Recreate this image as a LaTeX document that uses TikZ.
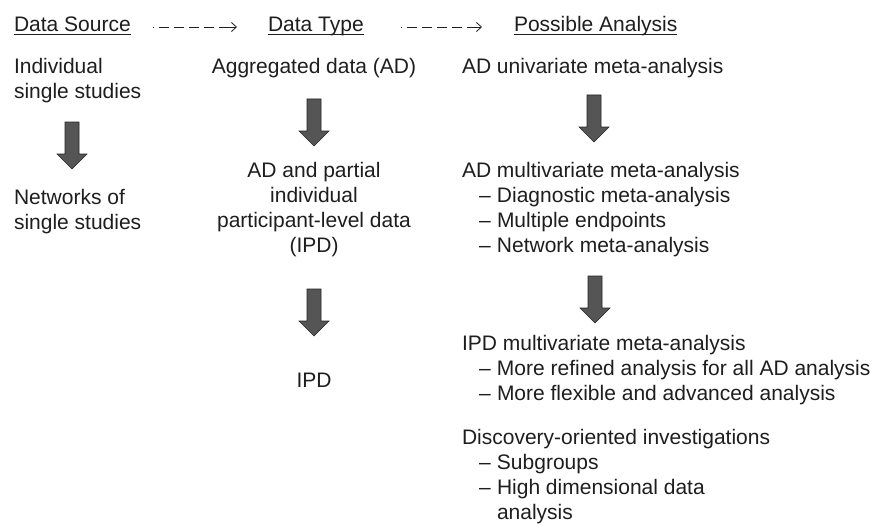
\documentclass[tikz,border=0pt]{standalone}
\usepackage{fontspec}
\setmainfont{Liberation Sans}
\usetikzlibrary{arrows.meta}
\definecolor{arrowgray}{HTML}{555555}
\definecolor{txt}{HTML}{1E1E1E}
\newcommand\dashitem[1]{\hspace*{17pt}\makebox[18pt][l]{–}#1}
\newcommand\contline[1]{\hspace*{35pt}#1}
\tikzset{
  txtnode/.style={inner sep=0pt, outer sep=0pt, text=txt, font=\fontsize{21}{25}\selectfont},
  uline/.style={draw=txt, line width=0.8pt},
  dasharrow/.style={draw=txt, line width=0.8pt,
    dash pattern=on 1.5pt off 5pt on 10pt off 5pt on 10pt off 5pt on 10pt off 5pt on 10pt off 5pt on 40pt off 1pt,
    -{Straight Barb[length=5pt,width=9pt,line width=0.8pt]}},
  downarrow/.pic={\filldraw[fill=arrowgray, draw=black!85, line width=0.6pt]
    (-7,0) -- (7,0) -- (7,32) -- (15,32) -- (0,47) -- (-15,32) -- (-7,32) -- cycle;}
}
\begin{document}
\begin{tikzpicture}[x=1pt,y=-1pt]
\useasboundingbox (0,0) rectangle (874,524);
\fill[white] (0,0) rectangle (874,524);

% headers
\node[txtnode, anchor=base west] (ds) at (14,32) {Data Source};
\node[txtnode, anchor=base west] (dt) at (268,32) {Data Type};
\node[txtnode, anchor=base west] (pa) at (514,32) {Possible Analysis};
\draw[uline] ([yshift=-2pt]ds.base west) -- ([yshift=-2pt]ds.base east);
\draw[uline] ([yshift=-2pt]dt.base west) -- ([yshift=-2pt]dt.base east);
\draw[uline] ([yshift=-2pt]pa.base west) -- ([yshift=-2pt]pa.base east);
\draw[dasharrow] ([xshift=22pt,yshift=5pt]ds.base east) -- ([xshift=-31pt,yshift=5pt]dt.base west);
\draw[dasharrow] ([xshift=37pt,yshift=5pt]dt.base east) -- ([xshift=-32pt,yshift=5pt]pa.base west);

% data source column
\node[txtnode, anchor=base west] (src1) at (14,74)
  {\begin{tabular}[t]{@{}l@{}}Individual\\single studies\end{tabular}};
\node[txtnode, anchor=base west] (src2) at (14,204)
  {\begin{tabular}[t]{@{}l@{}}Networks of\\single studies\end{tabular}};
\pic at (72,122) {downarrow};

% data type column
\node[txtnode, anchor=base] (typ1) at (314,74) {Aggregated data (AD)};
\node[txtnode, anchor=base] (typ2) at (314,177)
  {\begin{tabular}[t]{@{}c@{}}AD and partial\\individual\\participant-level data\\(IPD)\end{tabular}};
\node[txtnode, anchor=base] (typ3) at (314,387) {IPD};
\pic at (314,99) {downarrow};
\pic at (314,289) {downarrow};

% analysis column
\node[txtnode, anchor=base west] (an1) at (462,74) {AD univariate meta-analysis};
\node[txtnode, anchor=base west] (an2) at (462,177)
  {\begin{tabular}[t]{@{}l@{}}AD multivariate meta-analysis\\
   \dashitem{Diagnostic meta-analysis}\\
   \dashitem{Multiple endpoints}\\
   \dashitem{Network meta-analysis}\end{tabular}};
\node[txtnode, anchor=base west] (an3) at (462,350)
  {\begin{tabular}[t]{@{}l@{}}IPD multivariate meta-analysis\\
   \dashitem{More refined analysis for all AD analysis}\\
   \dashitem{More flexible and advanced analysis}\end{tabular}};
\node[txtnode, anchor=base west] (an4) at (462,444)
  {\begin{tabular}[t]{@{}l@{}}Discovery-oriented investigations\\
   \dashitem{Subgroups}\\
   \dashitem{High dimensional data}\\
   \contline{analysis}\end{tabular}};
\pic at (594,95) {downarrow};
\pic at (595,276) {downarrow};
\end{tikzpicture}
\end{document}
